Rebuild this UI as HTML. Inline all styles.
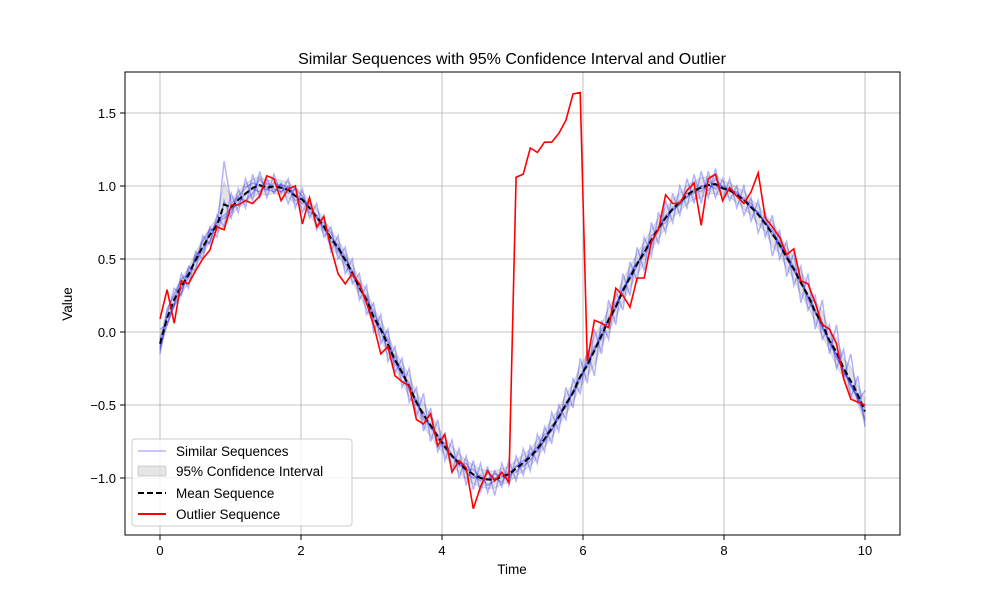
<!DOCTYPE html>
<html><head><meta charset="utf-8"><style>
body{margin:0;background:#fff;font-family:"Liberation Sans","DejaVu Sans",sans-serif}
svg text{font-family:"Liberation Sans","DejaVu Sans",sans-serif;fill:#000}
</style></head><body>
<svg id="chart" width="1000" height="600" xmlns="http://www.w3.org/2000/svg">
<rect width="1000" height="600" fill="#fff"/>
<g id="grid"></g>
<g id="plot"></g>
<rect x="125" y="72" width="775" height="463" fill="none" stroke="#000" stroke-width="1"/>
<g id="ticks"></g>
<text x="512" y="64" font-size="16" text-anchor="middle">Similar Sequences with 95% Confidence Interval and Outlier</text>
<text x="512" y="574" font-size="13.5" text-anchor="middle">Time</text>
<text x="72" y="304" font-size="13.5" text-anchor="middle" transform="rotate(-90 72 304)">Value</text>
<g>
<rect x="132" y="439" width="220" height="87" rx="3" fill="#fff" fill-opacity="0.8" stroke="#ccc"/>
<g><line x1="138" y1="451" x2="166" y2="451" stroke="#0000ff" stroke-opacity="0.3" stroke-width="1.5"/><text x="176" y="456" font-size="13.5">Similar Sequences</text></g>
<g><rect x="138" y="466" width="28" height="10" fill="#808080" fill-opacity="0.2" stroke="#808080" stroke-opacity="0.3"/><text x="176" y="476" font-size="13.5">95% Confidence Interval</text></g>
<g><line x1="138" y1="493" x2="166" y2="493" stroke="#000" stroke-width="2" stroke-dasharray="6,3"/><text x="176" y="498" font-size="13.5">Mean Sequence</text></g>
<g><line x1="138" y1="514" x2="166" y2="514" stroke="#ff0000" stroke-width="2"/><text x="176" y="519" font-size="13.5">Outlier Sequence</text></g>
</g>
</svg>
<script>
const xTicks=[0,2,4,6,8,10];
const yTicks=[-1.0,-0.5,0.0,0.5,1.0,1.5];
const seqA=[-0.12,0.16,0.25,0.36,0.40,0.50,0.62,0.70,0.70,1.17,0.88,0.93,0.99,1.02,1.00,0.97,1.02,1.00,0.95,0.98,0.93,0.85,0.78,0.70,0.64,0.60,0.47,0.38,0.33,0.20,0.08,0.02,-0.05,-0.20,-0.25,-0.40,-0.46,-0.60,-0.63,-0.72,-0.80,-0.86,-0.88,-0.96,-1.00,-0.98,-1.05,-1.02,-0.97,-0.99,-0.92,-0.88,-0.85,-0.78,-0.70,-0.68,-0.55,-0.52,-0.40,-0.30,-0.22,-0.10,-0.05,0.10,0.17,0.30,0.36,0.45,0.58,0.60,0.72,0.75,0.85,0.90,0.92,0.98,0.96,1.03,1.00,0.98,0.97,0.93,0.92,0.85,0.82,0.74,0.70,0.60,0.52,0.45,0.33,0.25,0.15,0.02,-0.05,-0.18,-0.25,-0.37,-0.45,-0.60];
const seqB=[-0.05,0.10,0.18,0.27,0.43,0.48,0.55,0.68,0.75,0.78,0.82,0.92,0.90,0.95,1.05,0.98,0.96,1.01,0.99,0.90,0.92,0.82,0.80,0.72,0.68,0.55,0.50,0.42,0.28,0.25,0.10,0.00,-0.12,-0.16,-0.30,-0.35,-0.50,-0.55,-0.66,-0.70,-0.78,-0.85,-0.92,-0.90,-0.98,-1.02,-0.97,-1.00,-1.03,-0.95,-0.96,-0.90,-0.83,-0.82,-0.74,-0.64,-0.60,-0.48,-0.42,-0.33,-0.20,-0.14,0.02,0.06,0.20,0.26,0.40,0.48,0.52,0.66,0.70,0.80,0.83,0.88,0.95,0.96,1.00,0.97,1.05,0.99,0.98,0.95,0.90,0.88,0.80,0.76,0.66,0.62,0.50,0.42,0.36,0.22,0.13,0.05,-0.08,-0.15,-0.28,-0.35,-0.47,-0.55];
const seqC=[-0.10,0.05,0.20,0.30,0.37,0.52,0.58,0.62,0.76,0.80,0.84,0.88,0.95,0.98,0.96,1.02,0.98,0.96,1.00,0.93,0.88,0.88,0.78,0.75,0.62,0.58,0.52,0.40,0.30,0.22,0.14,0.03,-0.08,-0.22,-0.28,-0.38,-0.48,-0.58,-0.64,-0.74,-0.76,-0.84,-0.90,-0.95,-0.94,-1.00,-1.01,-0.97,-0.99,-1.00,-0.92,-0.92,-0.88,-0.80,-0.75,-0.67,-0.58,-0.50,-0.42,-0.30,-0.24,-0.12,-0.02,0.08,0.16,0.30,0.38,0.47,0.55,0.62,0.71,0.78,0.84,0.87,0.93,0.95,1.00,1.01,0.98,1.00,0.96,0.96,0.90,0.86,0.82,0.74,0.68,0.58,0.53,0.42,0.34,0.24,0.14,0.04,-0.06,-0.16,-0.27,-0.36,-0.45,-0.52];
const seqD=[-0.15,0.12,0.30,0.25,0.45,0.42,0.66,0.60,0.80,0.72,0.95,0.82,1.05,0.90,1.10,0.92,1.08,0.95,1.05,0.85,0.98,0.78,0.88,0.65,0.72,0.50,0.58,0.33,0.40,0.12,0.20,-0.08,0.02,-0.28,-0.18,-0.48,-0.38,-0.68,-0.52,-0.82,-0.70,-0.95,-0.80,-1.05,-0.88,-1.10,-0.92,-1.12,-0.90,-1.05,-0.85,-0.98,-0.78,-0.90,-0.65,-0.76,-0.50,-0.60,-0.32,-0.42,-0.12,-0.30,0.08,-0.05,0.28,0.15,0.48,0.35,0.65,0.52,0.82,0.68,0.95,0.80,1.05,0.88,1.10,0.92,1.12,0.90,1.05,0.85,1.00,0.76,0.90,0.65,0.80,0.50,0.62,0.32,0.45,0.15,0.25,-0.05,0.05,-0.25,-0.12,-0.45,-0.30,-0.65];
const seqE=[0.02,0.05,0.18,0.40,0.30,0.55,0.50,0.72,0.65,0.90,0.78,0.98,0.85,1.08,0.92,1.05,0.95,1.02,0.88,1.00,0.82,0.92,0.70,0.80,0.55,0.66,0.40,0.50,0.22,0.32,0.00,0.12,-0.20,-0.10,-0.38,-0.25,-0.58,-0.42,-0.75,-0.60,-0.88,-0.74,-1.00,-0.85,-1.08,-0.90,-1.10,-0.95,-1.06,-0.88,-1.02,-0.80,-0.95,-0.70,-0.82,-0.55,-0.68,-0.38,-0.52,-0.18,-0.35,0.02,-0.15,0.22,0.05,0.40,0.25,0.58,0.42,0.75,0.60,0.90,0.75,1.00,0.85,1.08,0.88,1.10,0.92,1.05,0.90,1.00,0.80,0.92,0.68,0.82,0.52,0.70,0.38,0.55,0.20,0.40,0.02,0.22,-0.15,0.05,-0.32,-0.15,-0.48,-0.40];
const outlier=[0.09,0.29,0.06,0.35,0.33,0.42,0.50,0.56,0.72,0.70,0.87,0.87,0.90,0.88,0.93,1.07,1.05,0.90,0.98,1.00,0.74,0.92,0.72,0.79,0.58,0.40,0.33,0.40,0.33,0.20,0.05,-0.15,-0.10,-0.30,-0.34,-0.37,-0.60,-0.63,-0.56,-0.78,-0.70,-0.96,-0.88,-0.93,-1.21,-1.06,-0.95,-1.02,-0.96,-1.03,1.06,1.08,1.26,1.23,1.30,1.30,1.36,1.45,1.63,1.64,-0.20,0.08,0.06,0.03,0.30,0.25,0.17,0.37,0.37,0.62,0.70,0.94,0.88,0.88,0.97,1.02,0.73,1.05,1.08,0.90,0.99,0.93,0.88,0.96,1.09,0.78,0.72,0.65,0.53,0.57,0.35,0.33,0.20,0.05,0.02,-0.08,-0.32,-0.46,-0.48,-0.50];
const similar=[seqA,seqB,seqC,seqD,seqE];

const NS="http://www.w3.org/2000/svg";
const X0=160,XS=70.5,Y0=332,YS=146;
function xs(v){return X0+v*XS;}
function ys(v){return Y0-v*YS;}
function tAt(i,n){return i*10/(n-1);}
function mk(tag,attrs,parent){const e=document.createElementNS(NS,tag);for(const k in attrs)e.setAttribute(k,attrs[k]);parent.appendChild(e);return e;}
const grid=document.getElementById('grid'),plot=document.getElementById('plot'),ticks=document.getElementById('ticks');
xTicks.forEach(t=>{
  const g=mk('line',{x1:xs(t),x2:xs(t),y1:72,y2:535,stroke:'#b0b0b0','stroke-width':0.8},grid);
  
  
  mk('line',{x1:xs(t),x2:xs(t),y1:535,y2:540,stroke:'#000'},ticks);
  const l=mk('text',{x:xs(t),y:555,'font-size':13,'text-anchor':'middle'},ticks);
  l.textContent=String(t);
  
  
});
yTicks.forEach(t=>{
  const g=mk('line',{x1:125,x2:900,y1:ys(t),y2:ys(t),stroke:'#b0b0b0','stroke-width':0.8},grid);
  
  
  mk('line',{x1:120,x2:125,y1:ys(t),y2:ys(t),stroke:'#000'},ticks);
  const l=mk('text',{x:116,y:ys(t)+5,'font-size':13,'text-anchor':'end'},ticks);
  l.textContent=(t<0?'\u2212':'')+Math.abs(t).toFixed(1);
  
  
});
const n=Math.min(...similar.map(s=>s.length));
const mean=[],lo=[],hi=[];
for(let i=0;i<n;i++){
  const vals=similar.map(s=>s[i]);
  const m=vals.reduce((a,b)=>a+b,0)/vals.length;
  const sd=Math.sqrt(vals.reduce((a,b)=>a+(b-m)*(b-m),0)/(vals.length-1));
  const h=Math.max(1.96*sd/Math.sqrt(vals.length),0.05);
  mean.push(m);lo.push(m-h);hi.push(m+h);
}
let band='';
for(let i=0;i<n;i++)band+=(i?'L':'M')+xs(tAt(i,n))+','+ys(hi[i]);
for(let i=n-1;i>=0;i--)band+='L'+xs(tAt(i,n))+','+ys(lo[i]);
const b=mk('path',{d:band+'Z',fill:'#808080','fill-opacity':0.22,stroke:'#808080','stroke-opacity':0.25},plot);


function line(arr){let d='';arr.forEach((v,i)=>{d+=(i?'L':'M')+xs(tAt(i,arr.length)).toFixed(1)+','+ys(v).toFixed(1);});return d;}
similar.forEach(s=>{
  const p=mk('path',{d:line(s),fill:'none',stroke:'#0000ff','stroke-opacity':0.3,'stroke-width':1.5},plot);
  
  
});
const mp=mk('path',{d:line(mean),fill:'none',stroke:'#000','stroke-width':2,'stroke-dasharray':'6,3'},plot);


const op=mk('path',{d:line(outlier),fill:'none',stroke:'#ff0000','stroke-width':1.6},plot);


</script>
</body></html>
